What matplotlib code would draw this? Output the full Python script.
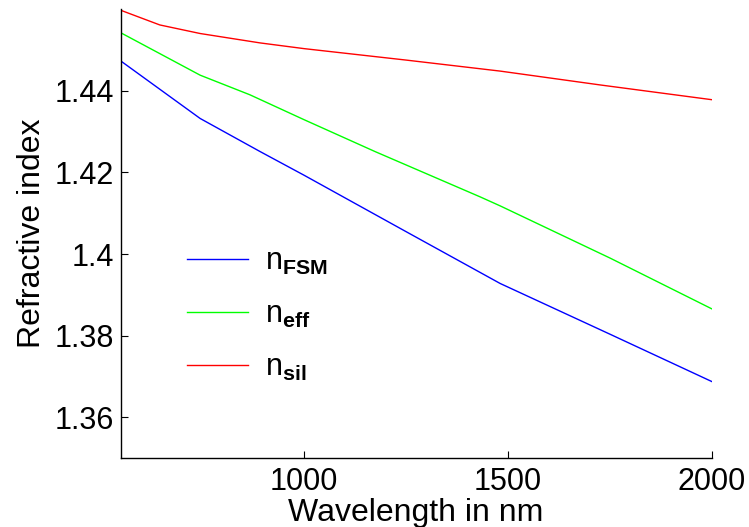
import matplotlib
matplotlib.use("Agg")
import matplotlib.pyplot as plt
import numpy as np

plt.rcParams["font.family"] = ["Liberation Sans", "DejaVu Sans"]
plt.rcParams["mathtext.fontset"] = "custom"
plt.rcParams["mathtext.rm"] = "Liberation Sans"
plt.rcParams["mathtext.bf"] = "Liberation Sans:bold"

# values
wl_sil = [550, 646, 745, 892, 1000, 1250, 1481, 1727, 2000]
n_sil = [1.4597, 1.4561, 1.4540, 1.4517, 1.4503, 1.4475, 1.4448, 1.4414, 1.4378]

wl_eff = [550, 745, 867, 1000, 1174, 1432, 1481, 1751, 2000]
n_eff = [1.4542, 1.4438, 1.4390, 1.4329, 1.4251, 1.4140, 1.4118, 1.3990, 1.3866]

wl_fsm = [550, 745, 892, 1000, 1250, 1481, 1750, 2000]
n_fsm = [1.4473, 1.4332, 1.4251, 1.4193, 1.4055, 1.3928, 1.3804, 1.3688]

fig = plt.figure(figsize=(7.49, 5.27), dpi=100)
ax = fig.add_axes([0.1611, 0.1304, 0.7891, 0.8525])

ax.plot(wl_fsm, n_fsm, color="#0000ff", lw=1.0, label=r"n$_{\mathbf{FSM}}$")
ax.plot(wl_eff, n_eff, color="#00ff00", lw=1.0, label=r"n$_{\mathbf{eff}}$")
ax.plot(wl_sil, n_sil, color="#ff0000", lw=1.0, label=r"n$_{\mathbf{sil}}$")

ax.set_xlim(550, 2000)
ax.set_ylim(1.35, 1.46)
ax.set_xticks([1000, 1500, 2000])
ax.set_yticks([1.36, 1.38, 1.40, 1.42, 1.44])
ax.set_yticklabels(["1.36", "1.38", "1.4", "1.42", "1.44"])

for s in ["top", "right"]:
    ax.spines[s].set_visible(False)
for s in ["left", "bottom"]:
    ax.spines[s].set_linewidth(1.0)

ax.tick_params(direction="in", length=5, width=0.8, labelsize=22)
ax.tick_params(axis="x", pad=6)
ax.tick_params(axis="y", pad=5)

ax.set_xlabel("Wavelength in nm", fontsize=23, labelpad=1)
ax.set_ylabel("Refractive index", fontsize=23, labelpad=5)

leg = ax.legend(loc="center left", bbox_to_anchor=(0.087, 0.32), frameon=False,
                fontsize=22, handlelength=2.0, handletextpad=0.55,
                labelspacing=0.75, borderpad=0)

fig.savefig("out.png", dpi=100)
